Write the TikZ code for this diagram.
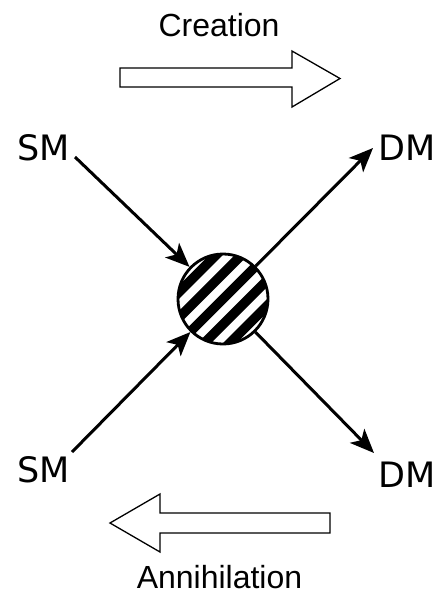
\documentclass[tikz,border=0pt]{standalone}
\usepackage{fontspec}
\setmainfont{Liberation Sans}
\newfontfamily\dejavu{DejaVu Sans}
\usetikzlibrary{arrows.meta}
\tikzset{
  lbl/.style={font=\fontsize{32}{35}\selectfont, anchor=base, inner sep=0pt},
  part/.style={font=\dejavu\fontsize{35}{38}\selectfont, anchor=base, inner sep=0pt},
  conn/.style={line width=3pt, -{Stealth[length=24pt,width=20pt,inset=6pt]}},
  blockarrow/.style={draw=black, line width=1.3pt, fill=white, line join=miter},
}
\begin{document}
\begin{tikzpicture}[x=1pt,y=-1pt]
\useasboundingbox (0,0) rectangle (435,595);
% labels
\node[lbl] (creation) at (219,36) {Creation};
\node[lbl] (annih) at (219.5,588) {Annihilation};
\node[part] (smA) at (43.5,160) {SM};
\node[part] (dmA) at (407,160) {DM};
\node[part] (smB) at (43.5,482) {SM};
\node[part] (dmB) at (407,487) {DM};
% central blob
\coordinate (c) at (223,299);
\begin{scope}
  \clip (c) circle (45);
  \foreach \i in {-3,...,3}{
    \draw[line width=9.5pt] ({223+\i*12.73-60},{299+\i*12.73+60}) -- ({223+\i*12.73+60},{299+\i*12.73-60});
  }
\end{scope}
\node[circle, draw, line width=2.8pt, minimum size=90pt, inner sep=0pt] (blob) at (c) {};
% connector ends
\coordinate (smAend) at (75,157);
\coordinate (smBend) at (72,452);
\coordinate (dmAtip) at (373,148);
\coordinate (dmBtip) at (374,453);
\draw[conn] (smAend) -- (blob);
\draw[conn] (smBend) -- (blob);
\draw[conn] (blob) -- (dmAtip);
\draw[conn] (blob) -- (dmBtip);
% block arrows
\draw[blockarrow] (120,68) -- (292,68) -- (292,51) -- (340,78.5) -- (292,107) -- (292,87) -- (120,87) -- cycle;
\draw[blockarrow] (330,513) -- (160,513) -- (160,494) -- (110,523) -- (160,552) -- (160,533) -- (330,533) -- cycle;
\end{tikzpicture}
\end{document}
